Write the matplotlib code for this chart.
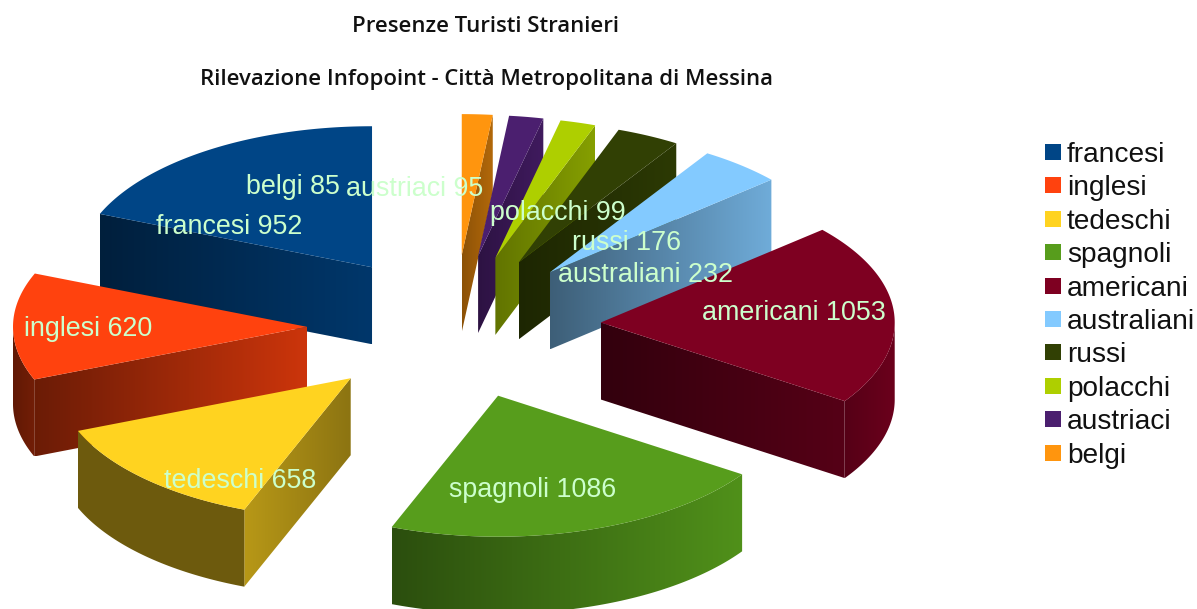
"""
Presenze turisti stranieri - torta 3D esplosa con legenda a destra
"""

import numpy as np
import matplotlib
matplotlib.use("Agg")
import matplotlib.pyplot as plt
from matplotlib.patches import Polygon, Rectangle

NAMES = ["francesi", "inglesi", "tedeschi", "spagnoli", "americani",
         "australiani", "russi", "polacchi", "austriaci", "belgi"]
VALUES = [952, 620, 658, 1086, 1053, 232, 176, 99, 95, 85]
COLORS = ["#004586", "#ff420e", "#ffd320", "#579d1c", "#7e0021",
          "#83caff", "#314004", "#aecf00", "#4b1f6f", "#ff950e"]

TITLE_1 = "Presenze Turisti Stranieri"
TITLE_2 = "Rilevazione Infopoint - Città Metropolitana di Messina"

# geometry of the pie, in pixels
CX, CY = 454, 327
RX, RY = 294, 141
EX, EY = 147, 72      # explode offset
DEPTH = 77

# wall brightness, left and right end of each wall
SIDE_SHADE = [(0.45, 0.80), (0.42, 0.80), (0.72, 0.55), (0.5, 0.9), (0.40, 0.68),
              (0.47, 0.85), (0.60, 0.90), (0.56, 0.77), (0.60, 0.85), (0.55, 0.70)]
ARC_SHADE = [(0.45, 0.45), (0.38, 0.45), (0.43, 0.43), (0.50, 0.92), (0.68, 0.85),
             (0.8, 0.8), (0.8, 0.8), (0.8, 0.8), (0.8, 0.8), (0.8, 0.8)]

# label centres
LABEL_POS = [(229, 227), (88, 329), (240, 481), (533, 490), (794, 313),
             (646, 275), (627, 243), (558, 213), (415, 189), (293, 187)]
LABEL_COLOR = "#ccffcc"


def gradient_poly(ax, xs, ys, color, shade, zorder):
    """fill a polygon with a horizontal brightness gradient"""
    base = np.array(matplotlib.colors.to_rgb(color))
    t = np.linspace(shade[0], shade[1], 128)
    img = (base[None, None, :] * t[None, :, None]).clip(0, 1)
    poly = Polygon(np.column_stack([xs, ys]), closed=True, fc="none", ec="none", zorder=zorder)
    ax.add_patch(poly)
    im = ax.imshow(img, extent=(min(xs), max(xs), max(ys), min(ys)),
                   aspect="auto", interpolation="bilinear", zorder=zorder)
    im.set_clip_path(poly)


def point(tip, theta):
    return tip[0] - RX * np.sin(theta), tip[1] - RY * np.cos(theta)


def draw_slice(ax, i, t0, t1, zorder):
    mid = (t0 + t1) / 2
    tip = (CX - EX * np.sin(mid), CY - EY * np.cos(mid))
    color = COLORS[i]

    # radial walls, only the ones facing the viewer
    for theta, visible in ((t0, np.sin(t0) < 0), (t1, np.sin(t1) > 0)):
        if visible:
            px, py = point(tip, theta)
            xs = [tip[0], px, px, tip[0]]
            ys = [tip[1], py, py + DEPTH, tip[1] + DEPTH]
            gradient_poly(ax, xs, ys, color, SIDE_SHADE[i], zorder)

    # outer wall, front half of the circle only
    a0, a1 = max(t0, np.pi / 2), min(t1, 3 * np.pi / 2)
    if a1 > a0:
        th = np.linspace(a0, a1, 80)
        ax_x = tip[0] - RX * np.sin(th)
        ax_y = tip[1] - RY * np.cos(th)
        xs = np.r_[ax_x, ax_x[::-1]]
        ys = np.r_[ax_y, ax_y[::-1] + DEPTH]
        gradient_poly(ax, xs, ys, color, ARC_SHADE[i], zorder)

    # top face
    th = np.linspace(t0, t1, 120)
    xs = np.r_[tip[0], tip[0] - RX * np.sin(th)]
    ys = np.r_[tip[1], tip[1] - RY * np.cos(th)]
    ax.add_patch(Polygon(np.column_stack([xs, ys]), closed=True, fc=color, ec="none", zorder=zorder + 0.5))


fig = plt.figure(figsize=(11.97, 6.09), dpi=100)
ax = fig.add_axes([0, 0, 1, 1])

edges = np.r_[0, np.cumsum(VALUES)] / sum(VALUES) * 2 * np.pi
mids = (edges[:-1] + edges[1:]) / 2

# back to front
order = np.argsort(-np.cos(mids))
for z, i in enumerate(order):
    draw_slice(ax, i, edges[i], edges[i + 1], 2 + z)

for name, val, (x, y) in zip(NAMES, VALUES, LABEL_POS):
    ax.text(x, y, f"{name} {val}", color=LABEL_COLOR, fontsize=19.4, family="Liberation Sans",
            ha="center", va="center", zorder=40)

ax.text(485, 27, TITLE_1, fontsize=15.9, family="Open Sans", weight=600, ha="center", va="center", color="#111111")
ax.text(486, 80, TITLE_2, fontsize=15.9, family="Open Sans", weight=600, ha="center", va="center", color="#111111")

# legend
for k, (name, color) in enumerate(zip(NAMES, COLORS)):
    y = 152 + k * 33.4
    ax.add_patch(Rectangle((1045, y - 8), 16, 16, fc=color, ec="none", zorder=5))
    ax.text(1067, y, name, fontsize=20.2, family="Liberation Sans", ha="left", va="center_baseline", color="#111111")

ax.set_xlim(0, 1197)
ax.set_ylim(609, 0)
ax.axis("off")
fig.savefig("out.png", dpi=100)
